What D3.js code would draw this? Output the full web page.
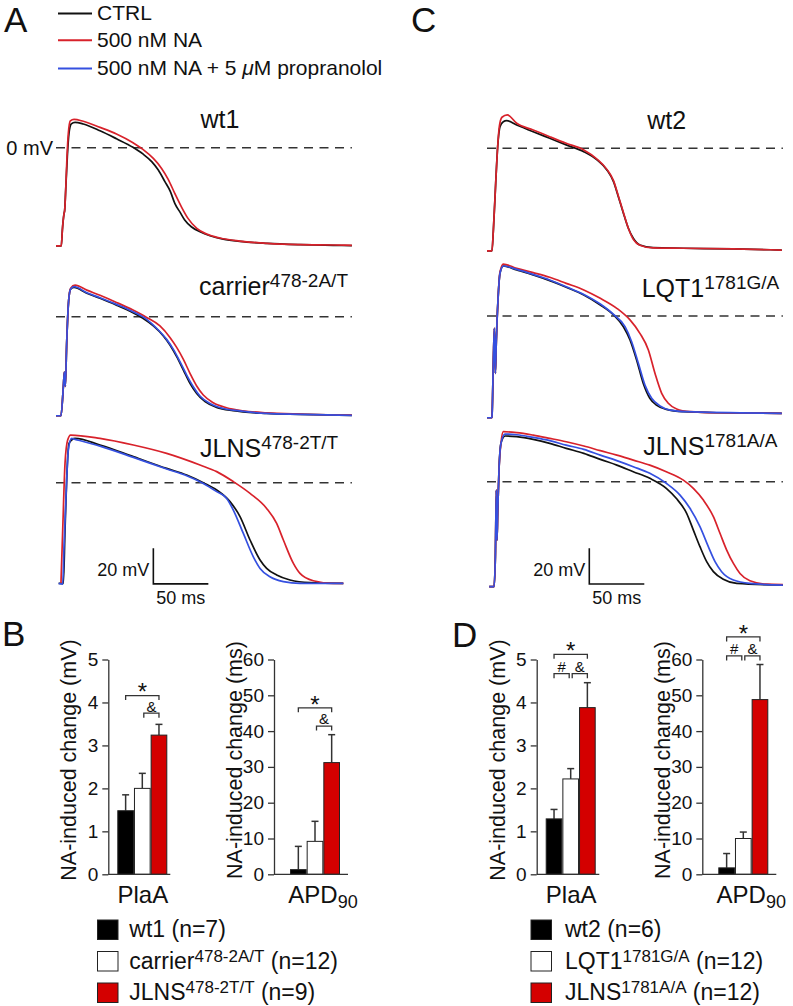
<!DOCTYPE html>
<html>
<head>
<meta charset="utf-8">
<script src="https://cdn.jsdelivr.net/npm/d3@7/dist/d3.min.js"></script>
<style>
html,body{margin:0;padding:0;background:#fff;}
svg{display:block;}
text{white-space:pre;}
</style>
</head>
<body>
<svg id="fig" width="793" height="1006" viewBox="0 0 793 1006"></svg>
<script>
// ================= DATA =================
const legendConditions = ["CTRL", "500 nM NA", "500 nM NA + 5 \u03bcM propranolol"];

// action potentials: [time (ms), membrane potential (mV)]
const wt1_ctrl = [[0,-55],[4.8,-55],[5.8,-46],[7.3,-37],[7.9,-35],[8.8,-24],[10.3,-5],[11.8,8],[13.9,13.3],[17.3,14.2],[24.8,13.3],[40,9.5],[55,5],[70,0.2],[79,-3.5],[87,-7.8],[93,-12.5],[99,-19],[104,-24.6],[108,-31.2],[113,-36.4],[117,-40.5],[123,-44.3],[131,-47.1],[140,-49.3],[152,-51.2],[167,-52.5],[192,-53.6],[222,-54.3],[252,-54.7],[269,-54.9]];
const wt1_na = [[0,-55],[4.8,-55],[5.8,-46],[7.3,-37],[7.9,-35],[8.8,-24],[10,-5],[11.2,8],[13,15],[16.4,15.9],[24.8,14.8],[40,11.4],[55,7.7],[70,2.8],[79,-0.9],[88.5,-6],[96,-11.6],[102,-17.7],[108,-25.6],[114,-33.1],[120,-39.6],[128,-45.2],[137,-48.4],[149,-50.6],[167,-52.3],[192,-53.6],[222,-54.3],[252,-54.5],[269,-54.7]];

const carrier_ctrl = [[0,-55.5],[4.5,-55.5],[6.7,-39],[7.6,-31],[8.5,-39],[9.7,-15],[11.5,9],[13.3,15.5],[16.4,16.4],[28,13.1],[40,10.3],[55,6.5],[70,2.2],[79,-0.9],[88.5,-5.2],[97.6,-10.8],[103.6,-15.9],[109.7,-22.4],[115.8,-29.9],[121.8,-37.3],[127.9,-43],[135.5,-47.6],[146,-50.8],[161,-52.7],[191.5,-54.2],[222,-54.7],[269,-55.3]];
const carrier_na = [[0,-55.5],[4.5,-55.5],[6.7,-39],[7.6,-31],[8.5,-39],[9.7,-15],[11.5,9],[13.3,16],[17.3,17.7],[28,14.9],[40,12],[55,8],[70,3.7],[82.4,-0.4],[94.5,-5.2],[103.6,-11.6],[109.7,-17.2],[115.8,-23.9],[121.8,-31.7],[127.9,-38.8],[133.9,-43.9],[143,-48.2],[155,-51],[170,-52.7],[191.5,-53.8],[222,-54.5],[269,-55.1]];
const carrier_prop = [[0,-55.5],[4.5,-55.5],[6.7,-39],[7.6,-31],[8.5,-39],[9.7,-15],[11.5,9],[13.3,15.5],[16.4,16.8],[28,13.4],[40,10.6],[55,6.9],[70,2.8],[82.4,-1.5],[91.5,-6.5],[100.6,-12.7],[106.7,-18.3],[112.7,-25.2],[118.8,-32.7],[124.8,-39.2],[130.9,-44.4],[140,-48.6],[152,-51.4],[167,-52.8],[191.5,-54.2],[222,-54.7],[269,-55.3]];

const jlnsA_ctrl = [[2.4,-56.4],[6.7,-56.4],[8.2,-26.5],[9.7,1.5],[11.8,22],[17.3,24.8],[40,21.1],[70.3,14.6],[100.6,8],[118.8,4.3],[133.9,0],[146.1,-4.1],[158.2,-10.6],[167.3,-19],[176.4,-32.1],[185.5,-43.3],[191.5,-48],[200.6,-51.7],[212.7,-54.5],[230.9,-56],[261.2,-56.4]];
const jlnsA_na = [[4.5,-56.4],[6.1,-26.5],[8.2,10.8],[10.6,23.9],[13.3,26.7],[40,24.8],[70.3,21.1],[100.6,16.4],[130.9,9.9],[146.1,6.2],[161.2,0.6],[176.4,-6],[191.5,-14.4],[200.6,-22.8],[206.7,-32.1],[215.8,-45.2],[221.8,-50.8],[233.9,-54.9],[252.1,-56.4],[261.2,-56.4]];
const jlnsA_prop = [[2.4,-56.4],[6.1,-56.8],[7.3,-35.9],[9.1,-7.8],[11.2,18.3],[14.2,24.8],[17.3,24.3],[40,20.5],[70.3,14.2],[100.6,7.7],[118.8,3.9],[133.9,-0.4],[146.1,-5],[155.2,-8.8],[161.2,-15.3],[170.3,-28.4],[179.4,-41.5],[185.5,-48],[194.5,-52.7],[206.7,-55.4],[221.8,-56.4],[261.2,-56.4]];

const wt2_ctrl = [[0,-57.5],[4.5,-57.5],[5.8,-45.8],[7.9,-19.6],[9.7,0.9],[11.8,12.1],[14.8,14.9],[17.9,15.5],[27,13.1],[42,9.3],[57,5.6],[72,1.9],[88,-1.9],[100,-6.5],[109,-12.1],[115,-18.7],[119.4,-27.1],[124,-36.4],[128.5,-44.8],[133,-50.4],[139,-54.2],[151,-55.7],[178.5,-56],[224,-56.4],[268,-57]];
const wt2_na = [[0,-57.5],[4.5,-57.5],[5.8,-45.8],[7.9,-19.6],[9.7,0.9],[11.2,12.1],[13.6,17.4],[18.5,18.7],[27,14],[42,10.3],[57,6.5],[72,2.8],[88,-0.9],[100,-6],[109,-11.8],[115,-18.1],[119.4,-26.7],[124,-36],[128.5,-44.8],[133,-51],[139,-54.3],[151,-55.8],[178.5,-56],[224,-56.4],[268,-57]];

const lqt1_ctrl = [[0,-57],[4,-57],[4.5,-56.4],[5.8,-24.6],[6.7,-6.9],[7.6,-32.1],[8.5,-13.4],[10,9],[11.8,23.9],[14.8,28],[27,25.8],[42,23],[57,19.8],[72,16.1],[88,11.8],[103,6.2],[115,0.6],[124,-6],[130,-13.4],[136,-24.6],[142,-37.7],[148,-46.1],[154,-49.9],[163,-52.3],[178.5,-53.6],[209,-54.2],[268,-54.5]];
const lqt1_na = [[0,-57],[4,-57],[4.5,-56.4],[5.8,-24.6],[6.7,-6.9],[7.6,-32.1],[8.5,-13.4],[10,9],[11.8,24.5],[14.8,29.1],[27,26.7],[42,24.3],[57,21.7],[72,18.3],[88,14.6],[103,9.9],[118,4.3],[130,-2.2],[139,-9.7],[146.7,-19],[152.7,-32.1],[158.8,-43.3],[164.8,-48.9],[172.4,-52.1],[184.5,-53.6],[209,-54.2],[268,-54.5]];
const lqt1_prop = [[0,-57],[4,-57],[4.5,-56.4],[5.8,-24.6],[6.7,-6.9],[7.6,-32.1],[8.5,-13.4],[10,9],[11.8,23.9],[14.8,28],[27,26.1],[42,23.3],[57,20.2],[72,16.4],[88,12.1],[103,6.7],[115,0.9],[125.5,-6],[131.5,-14.4],[137.6,-26.5],[143.6,-38.7],[149.7,-46.1],[157.3,-50.4],[166.4,-52.7],[181.5,-53.6],[268,-54.5]];

const jlnsC_ctrl = [[2,-58.8],[6.4,-58.8],[7.6,-42],[8.5,-4.7],[9.1,-32.7],[9.7,-17.7],[10.9,6.5],[12.7,21.5],[16.4,25.6],[27,25.2],[42,23.7],[57,21.5],[72,18.7],[88,15.9],[103,12.5],[118,9.3],[133,5.6],[148,1.9],[163,-3.7],[172,-9.3],[181.5,-17.7],[187.6,-27.1],[193.6,-36.4],[199.7,-44.8],[205.8,-50.4],[214.8,-54.7],[227,-57],[269,-57.9]];
const jlnsC_na = [[2,-58.8],[6.4,-58.8],[7.6,-42],[8.5,-4.7],[9.1,-32.7],[9.7,-17.7],[10.9,6.5],[12.7,21.5],[14.8,28],[27,27.5],[42,26.1],[57,24.3],[72,22.4],[88,20],[103,17.4],[118,14.9],[133,12.1],[148,9.3],[163,5.6],[178.5,0.9],[187.6,-3.7],[196.7,-10.3],[205.8,-19.6],[211.8,-28.9],[217.9,-38.3],[224,-45.8],[230,-51.4],[239,-55.5],[254,-57.4],[269,-57.6]];
const jlnsC_prop = [[2,-58.8],[6.4,-58.8],[7.6,-42],[8.5,-4.7],[9.1,-32.7],[9.7,-17.7],[10.9,6.5],[12.7,21.5],[16.4,26.7],[27,26.3],[42,24.8],[57,23],[72,20.5],[88,18.1],[103,14.9],[118,11.8],[133,8.4],[148,4.7],[163,-0.9],[175.5,-7.5],[184.5,-14.9],[193.6,-25.2],[201.2,-36.4],[207.3,-44.8],[213.3,-50.4],[224,-55.1],[239,-57],[269,-57.9]];

// bar charts (NA-induced change, mean and error)
const groupsB = ["wt1", "carrier 478-2A/T", "JLNS 478-2T/T"];
const groupsD = ["wt2", "LQT1 1781G/A", "JLNS 1781A/A"];
const plaA_B_mean = [1.48, 2.0, 3.24];
const plaA_B_err  = [0.37, 0.35, 0.25];
const apd90_B_mean = [1.3, 9.2, 31.2];
const apd90_B_err  = [6.5, 5.6, 7.8];
const plaA_D_mean = [1.29, 2.22, 3.88];
const plaA_D_err  = [0.22, 0.24, 0.58];
const apd90_D_mean = [1.8, 10.0, 48.8];
const apd90_D_err  = [4.0, 1.8, 9.8];
const plaA_ticks = [0, 1, 2, 3, 4, 5];
const apd90_ticks = [0, 10, 20, 30, 40, 50, 60];
const legendB_names = ["wt1", "carrier", "JLNS"];
const legendB_sups = ["", "478-2A/T", "478-2T/T"];
const legendB_n = ["(n=7)", "(n=12)", "(n=9)"];
const legendD_names = ["wt2", "LQT1", "JLNS"];
const legendD_sups = ["", "1781G/A", "1781A/A"];
const legendD_n = ["(n=6)", "(n=12)", "(n=12)"];
// significance brackets: [from group, to group, level (data units), symbol]
const sigB_plaA = [[0, 2, 4.16, "*"], [1, 2, 3.75, "&"]];
const sigB_apd90 = [[0, 2, 46.5, "*"], [1, 2, 41.4, "&"]];
const sigD_plaA = [[0, 2, 5.12, "*"], [0, 1, 4.67, "#"], [1, 2, 4.67, "&"]];
const sigD_apd90 = [[0, 2, 66.3, "*"], [0, 1, 61, "#"], [1, 2, 61, "&"]];

// ================= STYLE =================
const FONT = '"Liberation Sans", Arial, Helvetica, sans-serif';
const INK = "#111";
const traceColors = ["#111111", "#d8222b", "#3550e0"];
const barColors = ["#000000", "#ffffff", "#d40000"];

const svg = d3.select("#fig");

function txt(g, x, y, size, anchor) {
  return g.append("text").attr("x", x).attr("y", y)
    .attr("font-size", size).attr("font-family", FONT)
    .attr("text-anchor", anchor || "start").attr("fill", INK);
}
function supText(g, x, y, size, main, sup, supSize, rest, anchor) {
  const t = txt(g, x, y, size, anchor);
  t.append("tspan").text(main);
  const shift = Math.round(size * 0.3);
  if (sup) {
    t.append("tspan").attr("font-size", supSize).attr("dy", -shift).text(sup);
    if (rest) t.append("tspan").attr("dy", shift).text(rest);
  } else if (rest) {
    t.append("tspan").text(rest);
  }
  return t;
}

// panel letters
[["A", 4, 32], ["B", 2, 646], ["C", 411, 32], ["D", 452, 647]].forEach(([l, x, y]) => {
  txt(svg, x, y, 35).text(l);
});

// top legend
const legG = svg.append("g");
const legY = [20, 46.7, 75];
legendConditions.forEach((c, i) => {
  legG.append("line").attr("x1", 58).attr("x2", 92)
    .attr("y1", legY[i] - 6.5).attr("y2", legY[i] - 6.5)
    .attr("stroke", traceColors[i]).attr("stroke-width", 2);
  const t = txt(legG, 97, legY[i], 21);
  if (i === 2) {
    t.append("tspan").text("500 nM NA + 5 ");
    t.append("tspan").attr("font-style", "italic").text("\u03bc");
    t.append("tspan").text("M propranolol");
  } else t.text(c);
});

// ================= AP TRACES =================
const tracePanels = [
  { x0: 56, y0: 147.7, traces: [wt1_ctrl, wt1_na], cols: [0, 1], label: ["wt1", ""], lx: 220, ly: 128, anchor: "middle", zero: true },
  { x0: 56, y0: 316.7, traces: [carrier_ctrl, carrier_na, carrier_prop], cols: [0, 1, 2], label: ["carrier", "478-2A/T"], lx: 199, ly: 295 },
  { x0: 56, y0: 482.7, traces: [jlnsA_ctrl, jlnsA_na, jlnsA_prop], cols: [0, 1, 2], label: ["JLNS", "478-2T/T"], lx: 200, ly: 456.7, bar: [88.5, -56.7] },
  { x0: 487, y0: 148.3, traces: [wt2_ctrl, wt2_na], cols: [0, 1], label: ["wt2", ""], lx: 666.7, ly: 129, anchor: "middle" },
  { x0: 487, y0: 316, traces: [lqt1_ctrl, lqt1_na, lqt1_prop], cols: [0, 1, 2], label: ["LQT1", "1781G/A"], lx: 641.7, ly: 296.7 },
  { x0: 487, y0: 481.7, traces: [jlnsC_ctrl, jlnsC_na, jlnsC_prop], cols: [0, 1, 2], label: ["JLNS", "1781A/A"], lx: 643.3, ly: 455, bar: [93, -57.3] }
];

tracePanels.forEach(p => {
  const g = svg.append("g");
  const x = d3.scaleLinear().domain([0, 50]).range([p.x0, p.x0 + 55]);
  const y = d3.scaleLinear().domain([0, 20]).range([p.y0, p.y0 - 35.7]);
  g.append("line").attr("x1", x(0)).attr("x2", x(269)).attr("y1", y(0)).attr("y2", y(0))
    .attr("stroke", "#333").attr("stroke-width", 1.6).attr("stroke-dasharray", "9,6.5");
  if (p.zero) txt(g, 53, y(0) + 7, 20, "end").text("0 mV");
  const line = d3.line().x(d => x(d[0])).y(d => y(d[1])).curve(d3.curveMonotoneX);
  p.traces.forEach((tr, i) => {
    g.append("path").attr("d", line(tr)).attr("fill", "none")
      .attr("stroke", traceColors[p.cols[i]]).attr("stroke-width", 1.7)
      .attr("stroke-linejoin", "round");
  });
  supText(g, p.lx, p.ly, 25, p.label[0], p.label[1], 19, "", p.anchor || "start");
  if (p.bar) {
    const [bt, bv] = p.bar;
    g.append("path")
      .attr("d", `M${x(bt)},${y(bv + 20)}V${y(bv)}H${x(bt + 50)}`)
      .attr("fill", "none").attr("stroke", INK).attr("stroke-width", 1.6);
    txt(g, x(bt) - 4, y(bv + 20) + 27.5, 18, "end").text("20 mV");
    txt(g, (x(bt) + x(bt + 50)) / 2, y(bv) + 20, 18, "middle").text("50 ms");
  }
});

// ================= BAR CHARTS =================
function barChart(cfg) {
  const g = svg.append("g");
  const y = d3.scaleLinear().domain([0, cfg.max]).range([874.3, 659.5]);
  const x = d3.scaleBand().domain(cfg.groups).range([cfg.ax + cfg.gap, cfg.ax + cfg.gap + 50]).padding(0);
  const cx = i => x(cfg.groups[i]) + x.bandwidth() / 2;
  cfg.mean.forEach((m, i) => {
    const top = y(m + cfg.err[i]);
    g.append("line").attr("x1", cx(i)).attr("x2", cx(i)).attr("y1", y(m)).attr("y2", top)
      .attr("stroke", "#333").attr("stroke-width", 1.5);
    g.append("line").attr("x1", cx(i) - 3.5).attr("x2", cx(i) + 3.5).attr("y1", top).attr("y2", top)
      .attr("stroke", "#333").attr("stroke-width", 1.5);
  });
  g.selectAll("rect.bar").data(cfg.mean).join("rect").attr("class", "bar")
    .attr("x", (d, i) => x(cfg.groups[i]) + 0.5).attr("width", x.bandwidth() - 1)
    .attr("y", d => y(d)).attr("height", d => y(0) - y(d))
    .attr("fill", (d, i) => barColors[i]).attr("stroke", "#222").attr("stroke-width", 1);
  const ag = g.append("g").attr("transform", `translate(${cfg.ax},0)`)
    .call(d3.axisLeft(y).tickValues(cfg.ticks).tickFormat(d3.format("d"))
      .tickSize(6).tickSizeOuter(0).tickPadding(4));
  ag.attr("font-family", FONT).attr("font-size", 19);
  ag.select(".domain").attr("stroke", "#333").attr("stroke-width", 1.3);
  ag.selectAll(".tick line").attr("stroke", "#333").attr("stroke-width", 1.3);
  ag.selectAll(".tick text").attr("fill", INK);
  g.append("line").attr("x1", cfg.ax).attr("x2", cfg.ax + cfg.len).attr("y1", y(0)).attr("y2", y(0))
    .attr("stroke", "#333").attr("stroke-width", 1.3);
  g.append("text").attr("transform", `translate(${cfg.ax - 32},760) rotate(-90)`)
    .attr("text-anchor", "middle").attr("font-family", FONT).attr("font-size", 21.5).attr("fill", INK)
    .text(cfg.ylab);
  const xc = (cx(0) + cx(2)) / 2 + cfg.xoff;
  const xl = txt(g, xc, 903, 24, "middle");
  xl.append("tspan").text(cfg.xlab);
  if (cfg.xsub) xl.append("tspan").attr("font-size", 18).attr("dy", 5).text(cfg.xsub);
  cfg.sig.forEach(([a, b, lev, sym]) => {
    const x1 = cx(a) + (sym === "&" ? 1.5 : 0);
    const x2 = cx(b) - (sym === "#" ? 1.5 : 0);
    const yb = y(lev);
    g.append("path").attr("d", `M${x1},${yb + 4.5}V${yb}H${x2}V${yb + 4.5}`)
      .attr("fill", "none").attr("stroke", "#333").attr("stroke-width", 1.3);
    if (sym === "*") txt(g, (x1 + x2) / 2, yb + 4.7, 24, "middle").text(sym);
    else txt(g, (x1 + x2) / 2, yb - 1.6, 15, "middle").text(sym);
  });
}

barChart({ groups: groupsB, mean: plaA_B_mean, err: plaA_B_err, max: 5, ticks: plaA_ticks, ax: 108.3, gap: 9, len: 62, ylab: "NA-induced change (mV)", xlab: "PlaA", xsub: "", xoff: 0.5, sig: sigB_plaA });
barChart({ groups: groupsB, mean: apd90_B_mean, err: apd90_B_err, max: 60, ticks: apd90_ticks, ax: 274, gap: 16, len: 74, ylab: "NA-induced change (ms)", xlab: "APD", xsub: "90", xoff: 8, sig: sigB_apd90 });
barChart({ groups: groupsD, mean: plaA_D_mean, err: plaA_D_err, max: 5, ticks: plaA_ticks, ax: 536.7, gap: 9, len: 62.6, ylab: "NA-induced change (mV)", xlab: "PlaA", xsub: "", xoff: 0.5, sig: sigD_plaA });
barChart({ groups: groupsD, mean: apd90_D_mean, err: apd90_D_err, max: 60, ticks: apd90_ticks, ax: 702.3, gap: 16, len: 74, ylab: "NA-induced change (ms)", xlab: "APD", xsub: "90", xoff: 8, sig: sigD_apd90 });

// ================= BOTTOM LEGENDS =================
function barLegend(sx, tx, names, sups, ns) {
  const g = svg.append("g");
  const rows = [937, 968.5, 1000];
  names.forEach((nm, i) => {
    g.append("rect").attr("x", sx).attr("y", rows[i] - 17).attr("width", 20.5).attr("height", 19.5)
      .attr("fill", barColors[i]).attr("stroke", "#222").attr("stroke-width", 1);
    supText(g, tx, rows[i], 23, nm, sups[i], 17, " " + ns[i]);
  });
}
barLegend(97.5, 129.3, legendB_names, legendB_sups, legendB_n);
barLegend(531, 565, legendD_names, legendD_sups, legendD_n);
</script>
</body>
</html>
